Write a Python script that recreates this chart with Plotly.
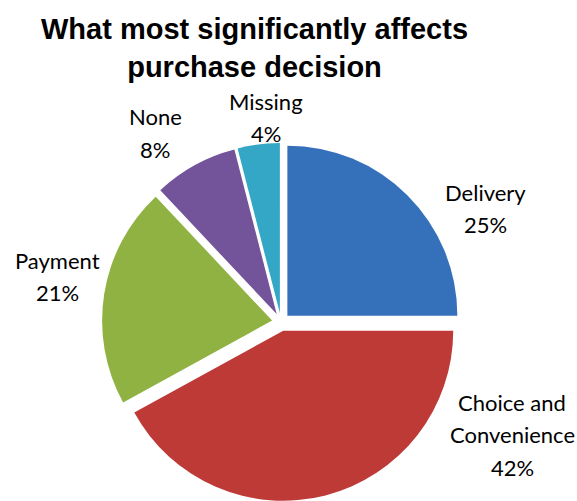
import plotly.graph_objects as go

# Survey breakdown: what most significantly affects the purchase decision
categories = ["Delivery", "Choice and Convenience", "Payment", "None", "Missing"]
shares = [25, 42, 21, 8, 4]  # percent of respondents
label_lines = [["Delivery"], ["Choice and", "Convenience"], ["Payment"], ["None"], ["Missing"]]

slice_colors = ["#3571ba", "#bd3a36", "#8fb243", "#735399", "#34a7c6"]

W, H = 577, 501

fig = go.Figure(
    go.Pie(
        labels=categories,
        values=shares,
        sort=False,
        direction="clockwise",
        rotation=0,
        pull=0.053,
        textinfo="none",
        hoverinfo="label+percent",
        marker=dict(colors=slice_colors, line=dict(width=0)),
        domain=dict(x=[102 / W, 460 / W], y=[0, 1 - 143 / H]),
        showlegend=False,
    )
)

# Data labels: one text line per annotation so the line pitch can be set
label_anchor = [(485, 192), (512, 402), (57, 260), (155, 117), (266, 101)]  # centre x, first line y
line_pitch = 32.5
label_font = dict(family="Lato, Carlito, sans-serif", size=22, color="#000000")
for lines, val, (px, py) in zip(label_lines, shares, label_anchor):
    for k, line in enumerate(lines + [f"{val}%"]):
        fig.add_annotation(
            x=px / W, y=1 - (py + k * line_pitch) / H, xref="paper", yref="paper",
            text=line, showarrow=False,
            xanchor="center", yanchor="middle", align="center",
            font=label_font,
        )

# Chart title
fig.add_annotation(
    x=254.5 / W, y=1 - 11 / H, xref="paper", yref="paper",
    text="<b>What most significantly affects<br>purchase decision</b>",
    showarrow=False, xanchor="center", yanchor="top", align="center",
    font=dict(family="Liberation Sans, Arial, sans-serif", size=29, color="#000000"),
)

fig.update_layout(
    width=W, height=H,
    margin=dict(l=0, r=0, t=0, b=0),
    paper_bgcolor="#ffffff",
    plot_bgcolor="#ffffff",
)

fig.write_html("out.html")
